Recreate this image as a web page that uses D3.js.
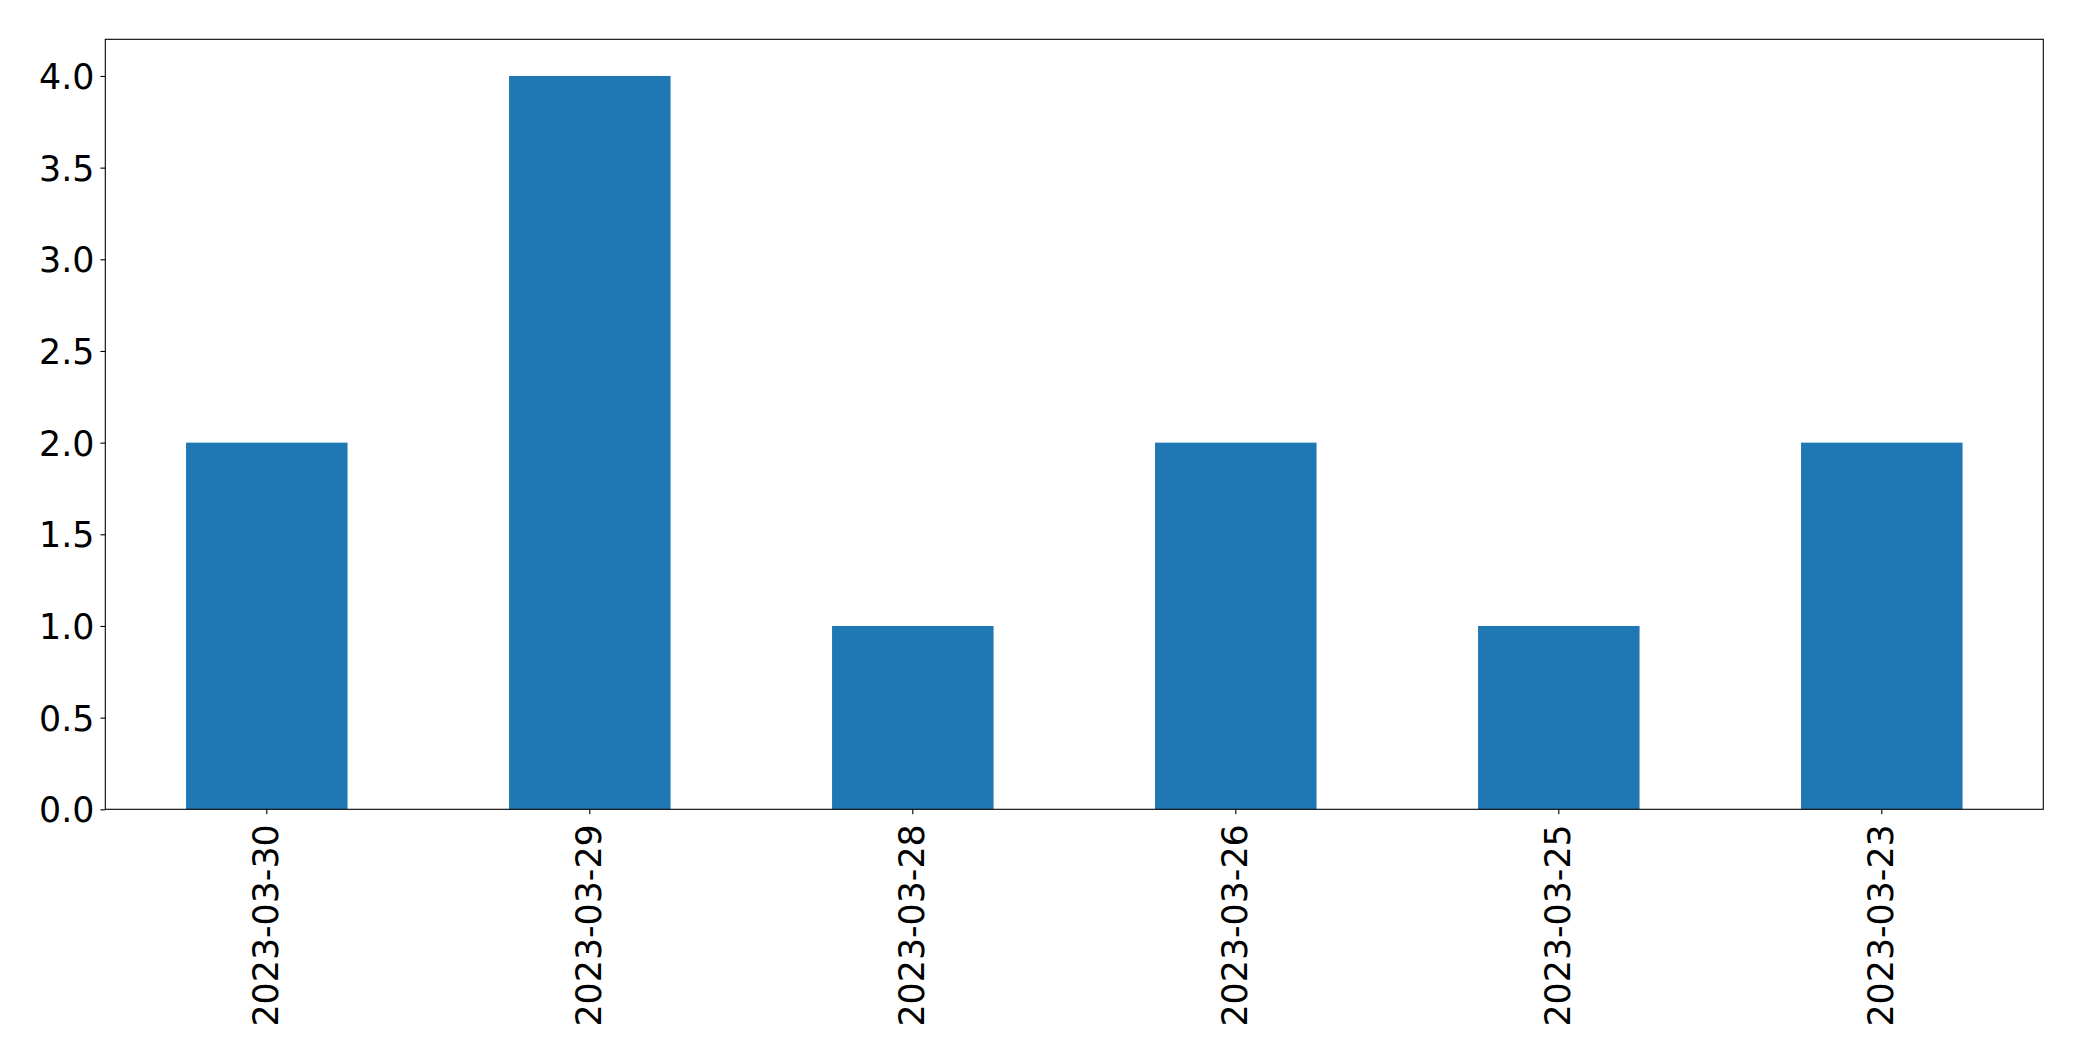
<!DOCTYPE html>
<html><head><meta charset="utf-8">
<script src="https://cdn.jsdelivr.net/npm/d3@7"></script>
<style>html,body{margin:0;padding:0;background:#fff;}svg{display:block;}</style>
</head><body>
<svg id="chart" width="2082" height="1061"></svg>
<script>
const categories = ["2023-03-30","2023-03-29","2023-03-28","2023-03-26","2023-03-25","2023-03-23"];
const values = [2,4,1,2,1,2];
const yTicks = [0,0.5,1,1.5,2,2.5,3,3.5,4];

const svg = d3.select("#chart");
const L = 105.3, R = 2043.3, T = 39.3, B = 809.3;
const font = "'DejaVu Sans', sans-serif";
const fs = 34.8;

const x = d3.scaleBand().domain(categories).range([L, R]).paddingInner(0.5).paddingOuter(0.25);
const y = d3.scaleLinear().domain([0, 4.2]).range([B, T]);

svg.append("g").selectAll("rect").data(values).join("rect")
  .attr("x", (d,i) => x(categories[i]))
  .attr("width", x.bandwidth())
  .attr("y", d => y(d))
  .attr("height", d => y(0) - y(d))
  .attr("fill", "#1f77b4");

const yAxis = d3.axisLeft(y).tickValues(yTicks).tickFormat(d3.format(".1f")).tickSize(4.9).tickPadding(6);
const gy = svg.append("g").attr("transform", `translate(${L},0)`).call(yAxis);
gy.select(".domain").remove();
gy.selectAll("line").attr("stroke","#000").attr("stroke-width",1.1);
gy.selectAll("text").attr("font-family", font).attr("font-size", fs).attr("fill","#000").attr("dy","0.36em");

const xAxis = d3.axisBottom(x).tickSize(4.9).tickPadding(0);
const gx = svg.append("g").attr("transform", `translate(0,${B})`).call(xAxis);
gx.select(".domain").remove();
gx.selectAll("line").attr("stroke","#000").attr("stroke-width",1.1);
gx.selectAll("text").attr("font-family", font).attr("font-size", fs).attr("fill","#000")
  .attr("transform","rotate(-90)").attr("text-anchor","end")
  .attr("x", -15).attr("y", 0).attr("dy","0.32em");

svg.append("rect").attr("x", L).attr("y", T).attr("width", R-L).attr("height", B-T)
  .attr("fill","none").attr("stroke","#000").attr("stroke-width",1.1);
</script>
</body></html>
